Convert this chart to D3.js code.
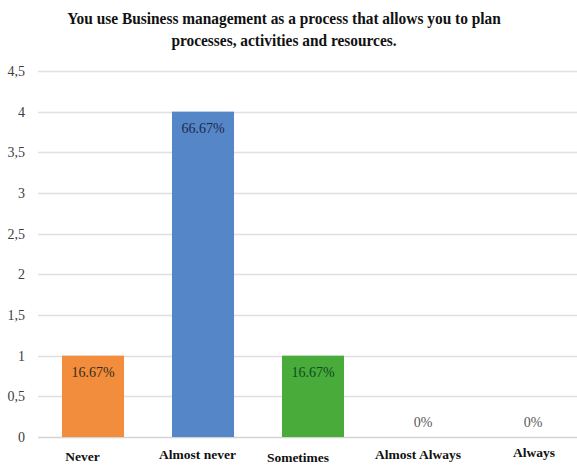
<!DOCTYPE html>
<html>
<head>
<meta charset="utf-8">
<script src="https://cdn.jsdelivr.net/npm/d3@7/dist/d3.min.js"></script>
<style>
  html, body { margin: 0; padding: 0; background: #fff; }
  svg { display: block; }
</style>
</head>
<body>
<svg id="chart" width="577" height="465"></svg>
<script>
// Survey answers: number of respondents per frequency category
const categories = ["Never", "Almost never", "Sometimes", "Almost Always", "Always"];
const counts = [1, 4, 1, 0, 0];
const percentLabels = ["16.67%", "66.67%", "16.67%", "0%", "0%"];
const yTicks = [0, 0.5, 1, 1.5, 2, 2.5, 3, 3.5, 4, 4.5];
const barColors = ["#F18D3C", "#5586C8", "#48AB3A", "#A5A5A5", "#FFC000"];
const labelColors = ["#3a2a1c", "#1c2a48", "#0f4a22", "#595959", "#595959"];
const titleLines = [
  "You use Business management as a process that allows you to plan",
  "processes, activities and resources."
];

const svg = d3.select("#chart");
const W = 577, H = 465;
const plotLeft = 38, plotRight = 588, plotTop = 71, plotBottom = 437;

// Hand-placed category captions: offset from the band centre and baseline
const captionLayout = {
  dx: [-10.5, -5.5, -15, -5, 1],
  baseline: [461, 459, 462, 459, 457]
};

const x = d3.scaleBand()
  .domain(categories)
  .range([plotLeft, plotRight])
  .paddingInner(0.436)
  .paddingOuter(0.218);

const y = d3.scaleLinear().domain([0, 4.5]).range([plotBottom, plotTop]);

const fmt = v => String(v).replace(".", ",");
const serif = "'Liberation Serif', 'Times New Roman', serif";

// Title (slightly condensed bold serif)
svg.append("g")
  .attr("transform", "translate(284,0) scale(0.88,1)")
  .selectAll("text")
  .data(titleLines)
  .join("text")
  .attr("x", 0)
  .attr("y", (d, i) => 24 + i * 22)
  .attr("text-anchor", "middle")
  .attr("font-family", serif)
  .attr("font-weight", "bold")
  .attr("font-size", 17.5)
  .attr("fill", "#111")
  .text(d => d);

// Horizontal gridlines
svg.append("g").selectAll("line")
  .data(yTicks)
  .join("line")
  .attr("x1", plotLeft)
  .attr("x2", W)
  .attr("y1", d => Math.round(y(d)) + 0.5)
  .attr("y2", d => Math.round(y(d)) + 0.5)
  .attr("stroke", d => d === 0 ? "#d4d4d4" : "#e0e0e0")
  .attr("stroke-width", 1.6);

// Y axis labels
const yAxis = d3.axisLeft(y).tickValues(yTicks).tickFormat(fmt).tickSize(0).tickPadding(0);
const yg = svg.append("g").attr("transform", `translate(${plotLeft - 13},0)`).call(yAxis);
yg.select(".domain").remove();
yg.selectAll("text")
  .attr("font-family", serif)
  .attr("font-size", 14)
  .attr("fill", "#404040");

// Bars
svg.append("g").selectAll("rect")
  .data(counts)
  .join("rect")
  .attr("x", (d, i) => x(categories[i]))
  .attr("width", x.bandwidth())
  .attr("y", d => y(d))
  .attr("height", d => y(0) - y(d))
  .attr("fill", (d, i) => barColors[i]);

// Value labels (inside the top of bars, above the baseline for empty bars)
svg.append("g").selectAll("text")
  .data(counts)
  .join("text")
  .attr("x", (d, i) => x(categories[i]) + x.bandwidth() / 2)
  .attr("y", d => d > 0 ? y(d) + 21 : y(0) - 10)
  .attr("text-anchor", "middle")
  .attr("font-family", serif)
  .attr("font-size", 14)
  .attr("fill", (d, i) => labelColors[i])
  .text((d, i) => percentLabels[i]);

// Category labels
svg.append("g").selectAll("text")
  .data(categories)
  .join("text")
  .attr("x", (d, i) => x(d) + x.bandwidth() / 2 + captionLayout.dx[i])
  .attr("y", (d, i) => captionLayout.baseline[i])
  .attr("text-anchor", "middle")
  .attr("font-family", serif)
  .attr("font-weight", "bold")
  .attr("font-size", 13.5)
  .attr("fill", "#111")
  .text(d => d);
</script>
</body>
</html>
